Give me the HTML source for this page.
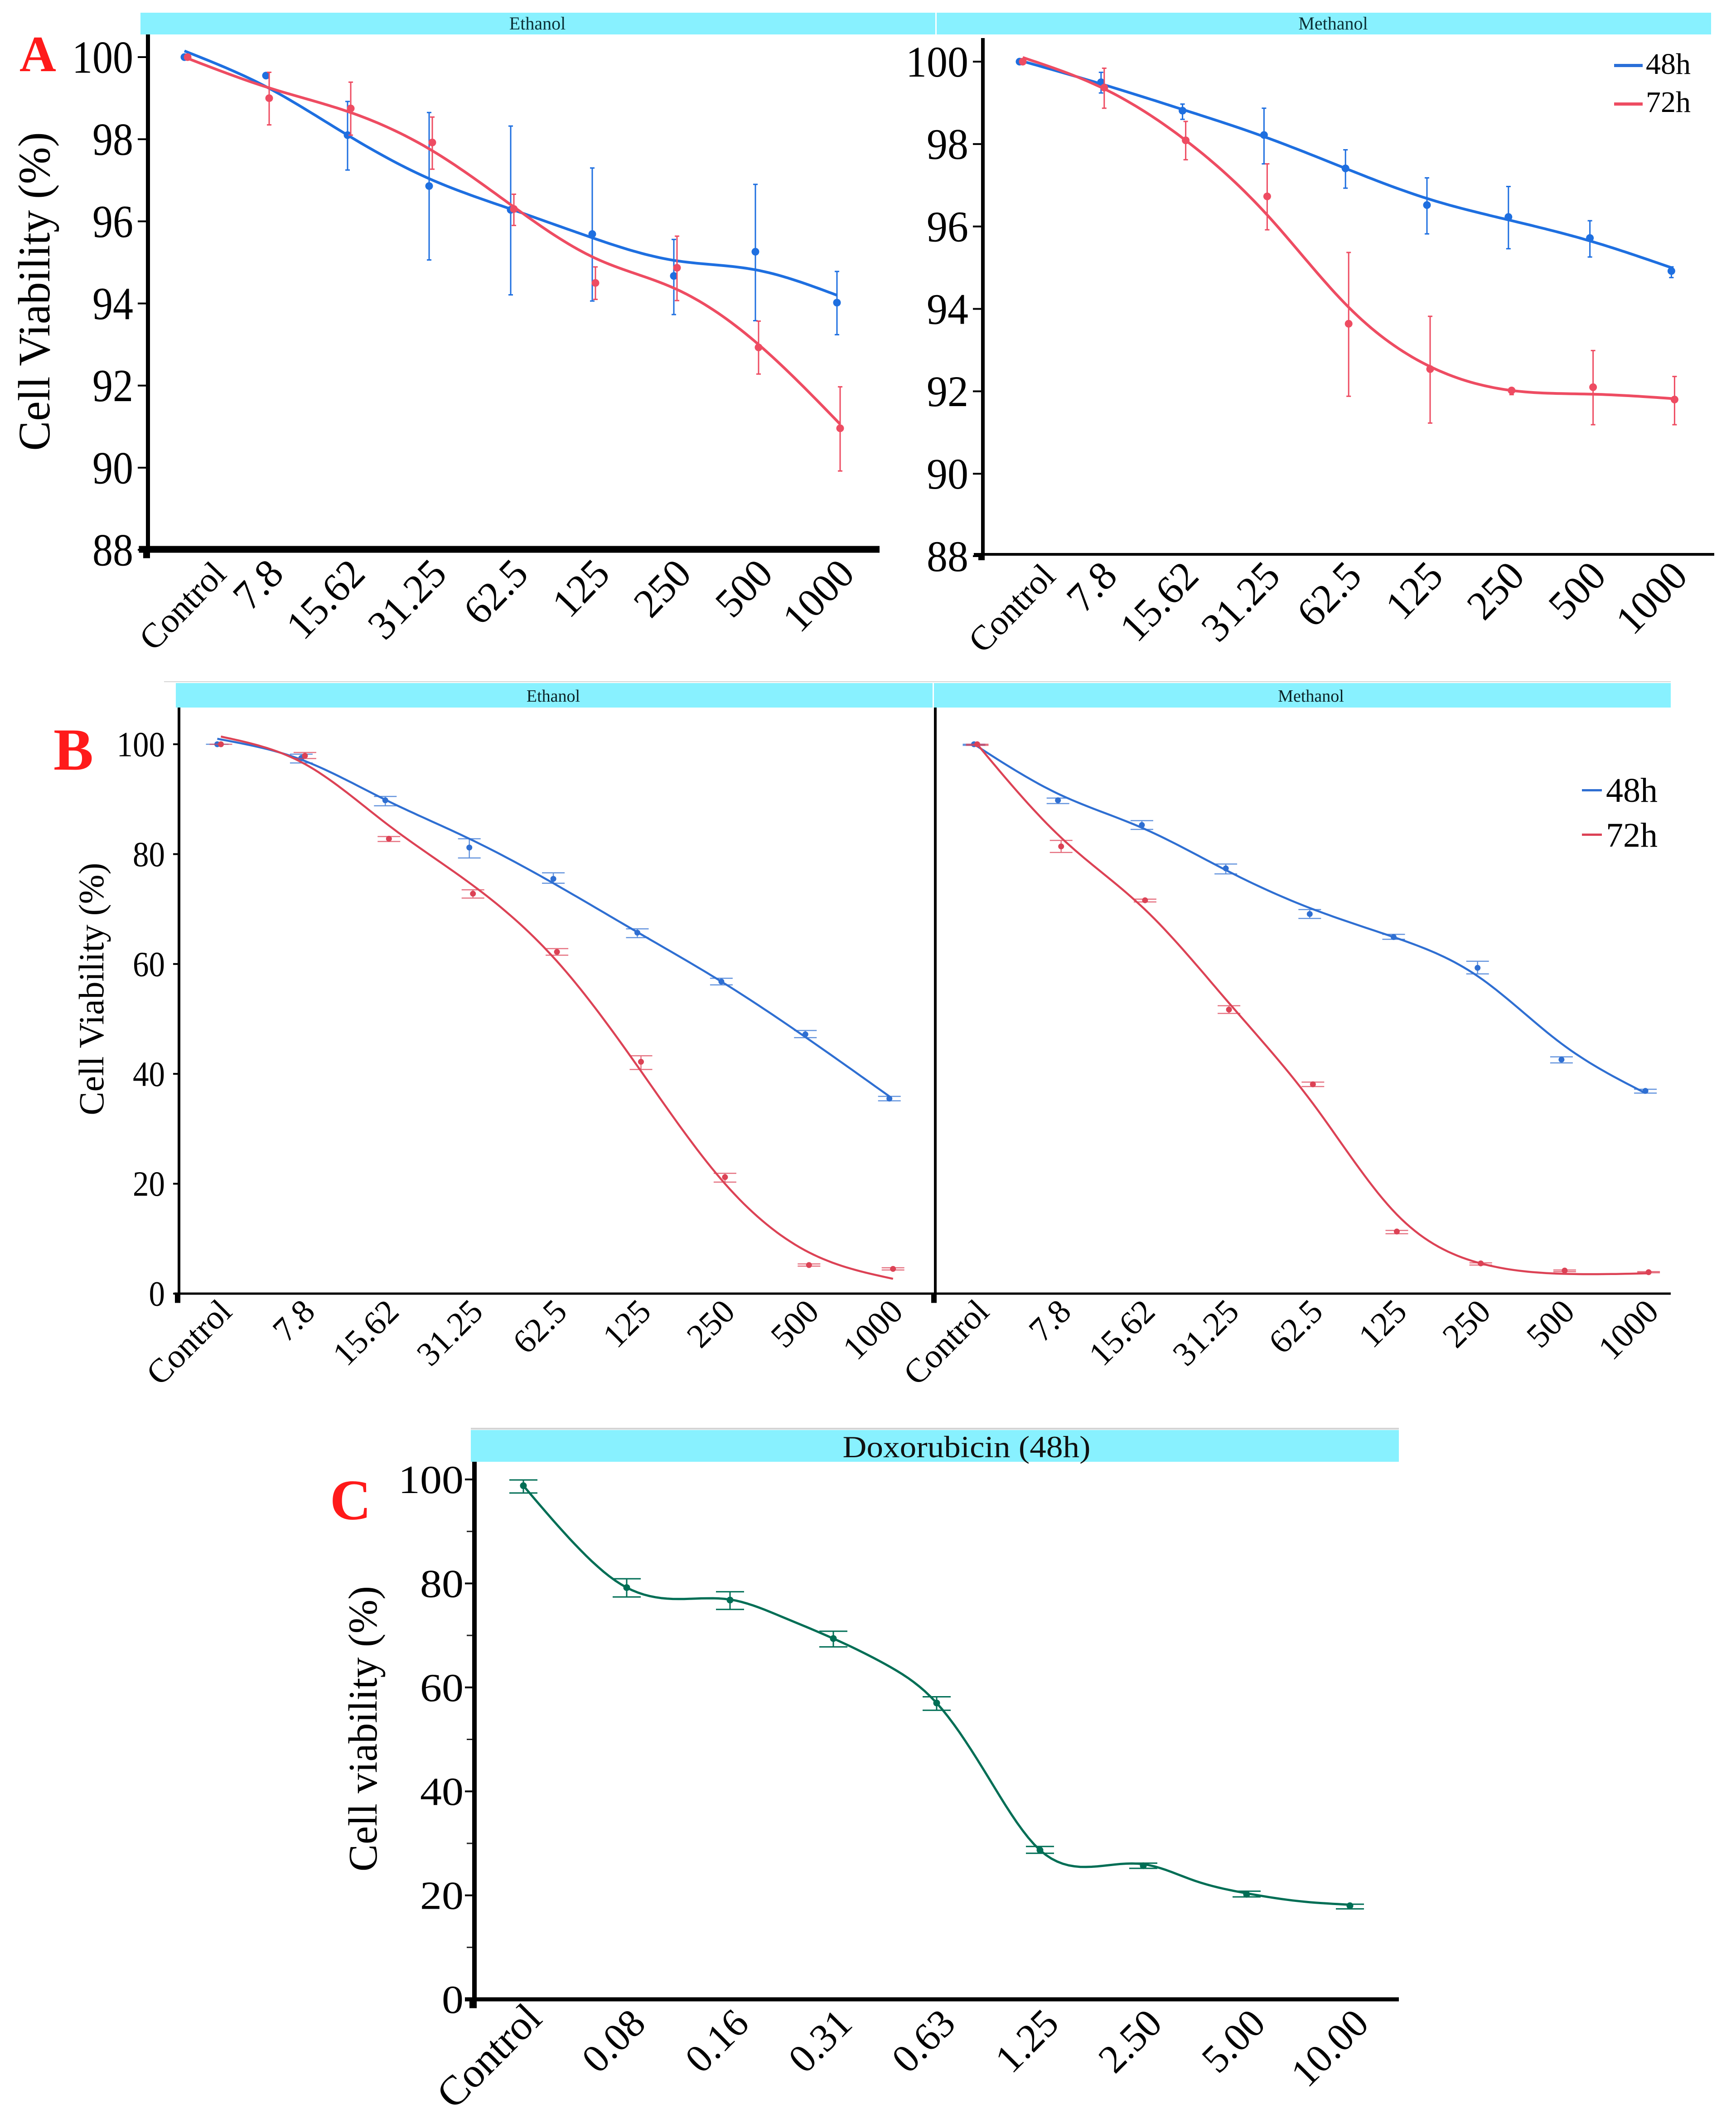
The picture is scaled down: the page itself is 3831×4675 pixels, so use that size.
<!DOCTYPE html>
<html lang="en">
<head>
<meta charset="utf-8">
<title>Cell viability charts</title>
<style>
html,body{margin:0;padding:0;background:#fff;}
svg{display:block;font-family:"Liberation Serif",serif;}
</style>
</head>
<body>
<svg id="figure" xmlns="http://www.w3.org/2000/svg" width="3831" height="4675" viewBox="0 0 3831 4675">
  <rect width="3831" height="4675" fill="#ffffff"/>

  <rect x="310" y="28" width="1754" height="48" fill="#88F1FF"/>
  <rect x="2067" y="28" width="1709" height="48" fill="#88F1FF"/>
  <text x="1186" y="65" font-size="40" text-anchor="middle" fill="#0b3036">Ethanol</text>
  <text x="2942" y="65" font-size="40" text-anchor="middle" fill="#0b3036">Methanol</text>

  <rect x="362" y="1503" width="3325" height="2" fill="#d5d5d5"/>
  <rect x="388" y="1507" width="1670" height="54" fill="#88F1FF"/>
  <rect x="2061" y="1507" width="1626" height="54" fill="#88F1FF"/>
  <text x="1221" y="1548" font-size="38" text-anchor="middle" fill="#0b2226">Ethanol</text>
  <text x="2893" y="1548" font-size="38" text-anchor="middle" fill="#0b2226">Methanol</text>

  <rect x="1039" y="3150" width="2048" height="4" fill="#d5d5d5"/>
  <rect x="1039" y="3155" width="2048" height="70" fill="#88F1FF"/>
  <text x="2133" y="3215" font-size="68" text-anchor="middle" textLength="547" lengthAdjust="spacingAndGlyphs" fill="#111111">Doxorubicin (48h)</text>

  <text x="43" y="157" font-size="112" font-weight="bold" fill="#FF1A1A">A</text>
  <text x="118" y="1698" font-size="132" font-weight="bold" fill="#FF1A1A">B</text>
  <text x="728" y="3352" font-size="126" font-weight="bold" fill="#FF1A1A">C</text>

  <text transform="translate(109 643) rotate(-90)" font-size="100" text-anchor="middle" textLength="703" lengthAdjust="spacingAndGlyphs" fill="#000">Cell Viability (%)</text>
  <text transform="translate(228 2182) rotate(-90)" font-size="78" text-anchor="middle" fill="#000">Cell Viability (%)</text>
  <text transform="translate(831 3814) rotate(-90)" font-size="90" text-anchor="middle" fill="#000">Cell viability (%)</text>

  <g id="marks"></g>

  <g>
    <rect x="3562" y="141" width="63" height="7" fill="#2A6FD8"/>
    <text x="3632" y="163" font-size="66" fill="#000">48h</text>
    <rect x="3562" y="226" width="63" height="7" fill="#EE4C62"/>
    <text x="3632" y="247" font-size="66" fill="#000">72h</text>
  </g>
  <g>
    <rect x="3491" y="1741" width="44" height="5" fill="#2F6FD2"/>
    <text x="3544" y="1769" font-size="76" fill="#000">48h</text>
    <rect x="3491" y="1839" width="44" height="5" fill="#DC4255"/>
    <text x="3544" y="1868" font-size="76" fill="#000">72h</text>
  </g>
</svg>

<script>
/* ---------- categories and tick labels ---------- */
const extractCategories = ['Control', '7.8', '15.62', '31.25', '62.5', '125', '250', '500', '1000'];
const doxCategories = ['Control', '0.08', '0.16', '0.31', '0.63', '1.25', '2.50', '5.00', '10.00'];
const yTicksA = [100, 98, 96, 94, 92, 90, 88];
const yTicksB = [100, 80, 60, 40, 20, 0];
const yTicksC = [100, 80, 60, 40, 20, 0];
const yMinorTicksC = [90, 70, 50, 30, 10];

/* ---------- Panel A, Ethanol ---------- */
const aEth48Mean = [100, 99.55, 98.1, 96.86, 96.28, 95.69, 94.67, 95.26, 94.02];
const aEth48High = [100, 99.55, 98.92, 98.65, 98.32, 97.3, 95.56, 96.9, 94.78];
const aEth48Low = [100, 99.55, 97.25, 95.06, 94.21, 94.06, 93.73, 93.58, 93.24];
const aEth48Fit = [100.15, 99.28, 98.1, 97.04, 96.3, 95.6, 95.05, 94.82, 94.2];
const aEth72Mean = [100, 99.0, 98.75, 97.92, 96.3, 94.5, 94.87, 92.93, 90.96];
const aEth72High = [100, 99.63, 99.39, 98.54, 96.66, 94.89, 95.64, 93.57, 91.97];
const aEth72Low = [100, 98.35, 98.1, 97.27, 95.9, 94.1, 94.07, 92.28, 89.92];
const aEth72Fit = [99.97, 99.25, 98.65, 97.72, 96.35, 95.1, 94.34, 93.0, 91.06];

/* ---------- Panel A, Methanol ---------- */
const aMet48Mean = [100, 99.5, 98.81, 98.22, 97.41, 96.52, 96.23, 95.72, 94.92];
const aMet48High = [100, 99.74, 98.97, 98.87, 97.86, 97.18, 96.97, 96.14, 95.02];
const aMet48Low = [100, 99.24, 98.6, 97.52, 96.93, 95.82, 95.46, 95.26, 94.76];
const aMet48Fit = [100.03, 99.46, 98.84, 98.18, 97.41, 96.68, 96.16, 95.65, 95.0];
const aMet72Mean = [100, 99.37, 98.09, 96.73, 93.64, 92.54, 92.02, 92.1, 91.8];
const aMet72High = [100, 99.84, 98.55, 97.52, 95.37, 93.82, 92.07, 92.99, 92.36];
const aMet72Low = [100, 98.87, 97.62, 95.92, 91.88, 91.23, 91.92, 91.19, 91.19];
const aMet72Fit = [100.1, 99.34, 98.09, 96.28, 94.04, 92.6, 92.02, 91.93, 91.82];

/* ---------- Panel B, Ethanol ---------- */
const bEth48Mean = [100, 97.5, 89.8, 81.2, 75.5, 65.7, 56.8, 47.2, 35.5];
const bEth48High = [100, 98.2, 90.5, 82.8, 76.6, 66.4, 57.4, 47.9, 35.9];
const bEth48Low = [100, 96.6, 88.8, 79.3, 74.7, 64.8, 56.2, 46.6, 35.1];
const bEth48Fit = [101, 97.2, 89.9, 82.8, 74.7, 65.8, 56.8, 46.7, 35.9];
const bEth72Mean = [100, 97.9, 82.8, 72.8, 62.2, 42.2, 21.2, 5.2, 4.5];
const bEth72High = [100, 98.5, 83.2, 73.5, 62.8, 43.3, 21.9, 5.4, 4.7];
const bEth72Low = [100, 97.4, 82.3, 72.0, 61.6, 40.8, 20.3, 5.0, 4.3];
const bEth72Fit = [101.4, 96.4, 85.2, 74.3, 60.5, 40.5, 20.0, 7.5, 2.7];

/* ---------- Panel B, Methanol ---------- */
const bMet48Mean = [100, 89.8, 85.3, 77.4, 69.1, 64.9, 59.3, 42.6, 36.9];
const bMet48High = [100, 90.2, 86.1, 78.2, 69.9, 65.4, 60.5, 43.1, 37.2];
const bMet48Low = [99.8, 89.2, 84.5, 76.4, 68.3, 64.5, 58.2, 42.0, 36.5];
const bMet48Fit = [100, 91, 84.8, 77.1, 70.2, 64.9, 57.8, 45.5, 36.5];
const bMet72Mean = [100, 81.4, 71.6, 51.7, 38.1, 11.3, 5.5, 4.2, 3.9];
const bMet72High = [100, 82.5, 71.8, 52.4, 38.5, 11.5, 5.6, 4.3, 4.0];
const bMet72Low = [99.8, 80.3, 71.3, 51.0, 37.7, 10.9, 5.2, 4.0, 3.8];
const bMet72Fit = [100, 83, 69.9, 52.9, 34.6, 14.4, 5.5, 3.6, 3.7];

/* ---------- Panel C, Doxorubicin (fit curve read at every half category) ---------- */
const doxMean = [98.8, 79.2, 76.8, 69.4, 57, 28.7, 25.7, 20.2, 18];
const doxHigh = [99.9, 80.9, 78.4, 70.8, 58.2, 29.4, 26.2, 20.8, 18.3];
const doxLow = [97.4, 77.4, 75, 67.8, 55.6, 28.1, 25.2, 19.7, 17.4];
const doxFit = [98.8, 87.5, 79.2, 77.0, 76.9, 73.6, 69.4, 64.5, 57, 42.7, 28.7, 25.5, 26.0, 22.8, 20.4, 18.9, 18.2];

const BLUE_A = '#1E6FE0', RED_A = '#EE4C62';
const BLUE_B = '#2F6FD2', RED_B = '#DC4255';
const GREEN = '#006E55';
const SVGNS = 'http://www.w3.org/2000/svg';
const root = document.getElementById('marks');

function make(tag, attrs, parent) {
  const el = document.createElementNS(SVGNS, tag);
  for (const k in attrs) el.setAttribute(k, attrs[k]);
  (parent || root).appendChild(el);
  return el;
}

/* natural cubic spline through evenly spaced values; returns sampled [category position, value] */
function splineSamples(values, perSegment, lastCategory) {
  const n = values.length;
  const m = new Array(n).fill(0);
  const c = new Array(n).fill(0), d = new Array(n).fill(0);
  const unit = lastCategory / (n - 1);
  for (let i = 1; i < n - 1; i++) {
    const r = 6 * (values[i + 1] - 2 * values[i] + values[i - 1]);
    const w = 4 - c[i - 1];
    c[i] = 1 / w;
    d[i] = (r - d[i - 1]) / w;
  }
  for (let i = n - 2; i > 0; i--) m[i] = d[i] - c[i] * m[i + 1];
  const out = [];
  for (let i = 0; i < n - 1; i++) {
    for (let s = 0; s < perSegment; s++) {
      const t = s / perSegment, u = 1 - t;
      const v = u * values[i] + t * values[i + 1] +
        ((u * u * u - u) * m[i] + (t * t * t - t) * m[i + 1]) / 6;
      out.push([(i + t) * unit, v]);
    }
  }
  out.push([lastCategory, values[n - 1]]);
  return out;
}

function drawAxes(p) {
  const g = make('g', {});
  
  
  const yAxis = make('rect', {x: p.axisX - p.axisW / 2, y: p.axisTop, width: p.axisW, height: p.axisY - p.axisTop + p.xAxisW / 2, fill: '#000'}, g);
  
  
  const xAxis = make('rect', {x: p.axisX - p.stubL, y: p.axisY - p.xAxisW / 2, width: p.axisRight - p.axisX + p.stubL, height: p.xAxisW, fill: '#000'}, g);
  
  
  const stub = make('rect', {x: p.axisX - p.axisW / 2 - 6, y: p.axisY, width: p.axisW + 6, height: p.stubH + p.xAxisW / 2, fill: '#000'}, g);
  
  

  p.yTicks.forEach(function (t) {
    const py = p.y(t);
    const tick = make('rect', {x: p.axisX - p.axisW / 2 - p.tickLen, y: py - p.tickW / 2, width: p.tickLen, height: p.tickW, fill: '#000'}, g);
    
    
    if (p.showLabels) {
      const base = py + p.yFont * 0.34 * p.yStretch;
      const lab = make('text', {transform: 'translate(' + p.yLabelX + ' ' + base + ') scale(1 ' + p.yStretch + ')', 'font-size': p.yFont, 'text-anchor': 'end', fill: '#000'}, g);
      lab.textContent = String(t);
      
      
    }
  });
  (p.yMinor || []).forEach(function (t) {
    const tick = make('rect', {x: p.axisX - p.axisW / 2 - 12, y: p.y(t) - 1.5, width: 12, height: 3, fill: '#222'}, g);
    
    
  });

  p.categories.forEach(function (c, i) {
    const isControl = i === 0;
    const px = p.x(i) + (isControl ? p.ctrlDx : p.labelDx);
    const py = p.axisY + (isControl ? p.ctrlDy : p.labelDy);
    const lab = make('text', {transform: 'translate(' + px + ' ' + py + ') rotate(' + p.labelAngle + ')', 'font-size': isControl ? p.ctrlFont : p.xFont, 'text-anchor': 'end', fill: '#000'}, g);
    lab.textContent = c;
    
    
  });
}

function drawSeries(p, s) {
  const g = make('g', {});
  
  
  const X = function (i) { return p.x(i) + s.dx; };

  s.mean.forEach(function (m, i) {
    const gx = X(i), yh = p.y(s.high[i]), yl = p.y(s.low[i]);
    const d = 'M' + gx + ' ' + yh + 'V' + yl +
      'M' + (gx - p.capW) + ' ' + yh + 'H' + (gx + p.capW) +
      'M' + (gx - p.capW) + ' ' + yl + 'H' + (gx + p.capW);
    const bar = make('path', {d: d, fill: 'none', stroke: s.color, 'stroke-width': p.errW, 'stroke-opacity': p.errOpacity}, g);
    
    
  });

  const segs = Math.ceil(144 / (s.fit.length - 1));
  const pts = splineSamples(s.fit, segs, s.mean.length - 1);
  const path = pts.map(function (q, k) {
    return (k ? 'L' : 'M') + (p.x(q[0]) + s.dx).toFixed(1) + ' ' + p.y(q[1]).toFixed(1);
  }).join('');
  const line = make('path', {d: path, fill: 'none', stroke: s.color, 'stroke-width': p.lineW, 'stroke-linejoin': 'round'}, g);
  
  

  s.mean.forEach(function (m, i) {
    const dot = make('circle', {cx: X(i), cy: p.y(m), r: p.dotR, fill: s.color}, g);
    
    
  });
}

function scales(x0, step, y100, yAt, top, bottom) {
  return {
    x: function (i) { return x0 + i * step; },
    y: function (v) { return y100 + (top - v) * (yAt - y100) / (top - bottom); }
  };
}

const common = {capW: 5, errW: 3, errOpacity: 1, lineW: 6, dotR: 8.5, tickW: 4, tickLen: 18, showLabels: true, yStretch: 1, labelAngle: -46};

const panelAL = Object.assign({}, common, scales(407, 180, 126, 1213, 100, 88), {
  name: 'panel-a-ethanol', categories: extractCategories, yTicks: yTicksA,
  axisX: 326.5, axisW: 9, axisTop: 76, axisY: 1212, xAxisW: 15, axisRight: 1941, stubL: 20, stubH: 12,
  yLabelX: 294, yFont: 90, yStretch: 1.13, xFont: 90, ctrlFont: 77, labelDx: 43, labelDy: 58, ctrlDx: 96, ctrlDy: 58
});
const panelAR = Object.assign({}, common, scales(2250, 179.8, 136, 1227, 100, 88), {
  name: 'panel-a-methanol', categories: extractCategories, yTicks: yTicksA,
  axisX: 2169, axisW: 8, axisTop: 84, axisY: 1223, xAxisW: 6, axisRight: 3783, stubL: 20, stubH: 10,
  yLabelX: 2137, yFont: 92, yStretch: 1.05, xFont: 90, ctrlFont: 77, labelDx: 40, labelDy: 52, ctrlDx: 83, ctrlDy: 52
});
const panelBL = Object.assign({}, common, scales(479.5, 185.4, 1642, 2854, 100, 0), {
  name: 'panel-b-ethanol', categories: extractCategories, yTicks: yTicksB,
  axisX: 395, axisW: 6, axisTop: 1561, axisY: 2854, xAxisW: 5, axisRight: 2064, stubL: 10, stubH: 18, tickLen: 10,
  yLabelX: 364, yFont: 71, yStretch: 1.1, xFont: 75, ctrlFont: 75, labelDx: 34, labelDy: 44, ctrlDx: 36, ctrlDy: 44, labelAngle: -45,
  capW: 25, errW: 2.5, errOpacity: 0.75, lineW: 4.5, dotR: 6.5
});
const panelBR = Object.assign({}, common, scales(2149.5, 185.2, 1642, 2854, 100, 0), {
  name: 'panel-b-methanol', categories: extractCategories, yTicks: yTicksB, showLabels: false,
  axisX: 2064, axisW: 6, axisTop: 1561, axisY: 2854, xAxisW: 5, axisRight: 3687, stubL: 10, stubH: 18, tickLen: 0,
  yLabelX: 0, yFont: 72, xFont: 75, ctrlFont: 75, labelDx: 33, labelDy: 44, ctrlDx: 37, ctrlDy: 44, labelAngle: -45,
  capW: 25, errW: 2.5, errOpacity: 0.75, lineW: 4.5, dotR: 6.5
});
const panelC = Object.assign({}, common, scales(1155, 228, 3264, 4411, 100, 0), {
  name: 'panel-c-doxorubicin', categories: doxCategories, yTicks: yTicksC, yMinor: yMinorTicksC,
  axisX: 1047, axisW: 10, axisTop: 3225, axisY: 4411, xAxisW: 9, axisRight: 3087, stubL: 21, stubH: 15, tickLen: 16,
  yLabelX: 1023, yFont: 96, yStretch: 0.92, xFont: 88, ctrlFont: 92, labelDx: 46, labelDy: 58, ctrlDx: 45, ctrlDy: 47, labelAngle: -45,
  capW: 31, errW: 3, errOpacity: 1, lineW: 5, dotR: 7.5
});

[panelAL, panelAR, panelBL, panelBR, panelC].forEach(drawAxes);

drawSeries(panelAL, {name: 'a-ethanol-48h', color: BLUE_A, dx: 0, mean: aEth48Mean, high: aEth48High, low: aEth48Low, fit: aEth48Fit});
drawSeries(panelAL, {name: 'a-ethanol-72h', color: RED_A, dx: 7, mean: aEth72Mean, high: aEth72High, low: aEth72Low, fit: aEth72Fit});
drawSeries(panelAR, {name: 'a-methanol-48h', color: BLUE_A, dx: 0, mean: aMet48Mean, high: aMet48High, low: aMet48Low, fit: aMet48Fit});
drawSeries(panelAR, {name: 'a-methanol-72h', color: RED_A, dx: 7, mean: aMet72Mean, high: aMet72High, low: aMet72Low, fit: aMet72Fit});
drawSeries(panelBL, {name: 'b-ethanol-48h', color: BLUE_B, dx: 0, mean: bEth48Mean, high: bEth48High, low: bEth48Low, fit: bEth48Fit});
drawSeries(panelBL, {name: 'b-ethanol-72h', color: RED_B, dx: 8, mean: bEth72Mean, high: bEth72High, low: bEth72Low, fit: bEth72Fit});
drawSeries(panelBR, {name: 'b-methanol-48h', color: BLUE_B, dx: 0, mean: bMet48Mean, high: bMet48High, low: bMet48Low, fit: bMet48Fit});
drawSeries(panelBR, {name: 'b-methanol-72h', color: RED_B, dx: 7, mean: bMet72Mean, high: bMet72High, low: bMet72Low, fit: bMet72Fit});
drawSeries(panelC, {name: 'c-doxorubicin-48h', color: GREEN, dx: 0, mean: doxMean, high: doxHigh, low: doxLow, fit: doxFit});
</script>
</body>
</html>
